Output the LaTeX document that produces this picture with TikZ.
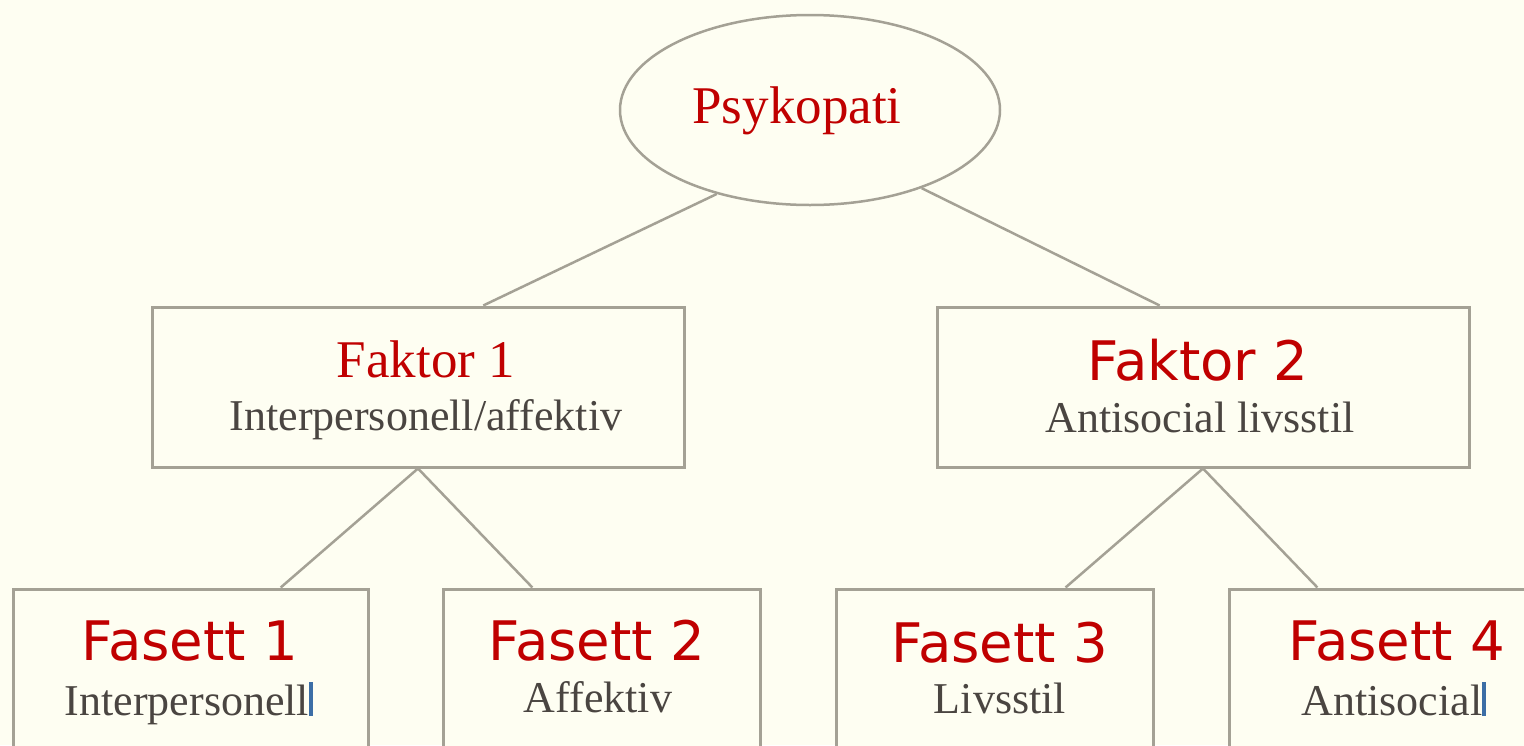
\documentclass[tikz,border=0pt]{standalone}
\usepackage{fontspec}
\setmainfont{Liberation Serif}
\newfontfamily\vsans{DejaVu Sans}
\usetikzlibrary{shapes.geometric,calc}
\definecolor{bg}{HTML}{FEFEF2}
\definecolor{edgegray}{HTML}{A4A195}
\definecolor{titlered}{HTML}{C00000}
\definecolor{subgray}{HTML}{4A4541}
\definecolor{cursorblue}{HTML}{3C6EA6}
\tikzset{
  box/.style={rectangle, draw=edgegray, line width=3pt, fill=bg, minimum height=160pt, inner sep=0pt},
  oval/.style={ellipse, draw=edgegray, line width=2.5pt, fill=bg, minimum width=380pt, minimum height=190pt, inner sep=0pt},
  conn/.style={draw=edgegray, line width=2.5pt},
  serifttl/.style={text=titlered, font=\fontsize{53}{60}\selectfont, anchor=base, inner sep=0pt},
  sansttl/.style={text=titlered, font=\vsans\fontsize{54.5}{60}\selectfont, anchor=base, inner sep=0pt},
  subttl/.style={text=subgray, font=\fontsize{44}{50}\selectfont, anchor=base, inner sep=0pt},
  cursorbar/.style={rectangle, fill=cursorblue, minimum width=4pt, minimum height=34pt, inner sep=0pt},
}
\begin{document}
\begin{tikzpicture}[x=1pt, y=-1pt]
  \useasboundingbox (0,0) rectangle (1524,745);
  \fill[bg] (0,0) rectangle (1524,745);
  \clip (0,0) rectangle (1524,745);

  % nodes
  \node[oval] (psy) at (810,110) {};
  \node[box, minimum width=532pt] (f1) at (418,387) {};
  \node[box, minimum width=532pt] (f2) at (1203,387) {};
  \node[box, minimum width=355pt] (s1) at (190.5,669) {};
  \node[box, minimum width=317pt] (s2) at (601.5,669) {};
  \node[box, minimum width=317pt] (s3) at (994.5,669) {};
  \node[box, minimum width=317pt] (s4) at (1387.5,669) {};

  % texts
  \node[serifttl] (tpsy) at (797,123) {Psykopati};
  \node[serifttl] (tf1) at (426,377) {Faktor 1};
  \node[subttl] (uf1) at (426,430) {Interpersonell/affektiv};
  \node[sansttl] (tf2) at (1198,380) {Faktor 2};
  \node[subttl] (uf2) at (1200,432) {Antisocial livsstil};
  \node[sansttl] (ts1) at (190,660) {Fasett 1};
  \node[subttl] (us1) at (187,715) {Interpersonell};
  \node[sansttl] (ts2) at (597,660) {Fasett 2};
  \node[subttl] (us2) at (598,712) {Affektiv};
  \node[sansttl] (ts3) at (1000,662) {Fasett 3};
  \node[subttl] (us3) at (1000,713) {Livsstil};
  \node[sansttl] (ts4) at (1397,660) {Fasett 4};
  \node[subttl] (us4) at (1392,715) {Antisocial};
  \node[cursorbar] (c1) at (310.5,699) {};
  \node[cursorbar] (c4) at (1484,699) {};

  % connectors
  \draw[conn] (psy.222) -- ($(f1.north west)!0.622!(f1.north east)$);
  \draw[conn] (psy.325) -- ($(f2.north west)!0.419!(f2.north east)$);
  \draw[conn] (f1.south) -- ($(s1.north west)!0.752!(s1.north east)$);
  \draw[conn] (f1.south) -- ($(s2.north west)!0.284!(s2.north east)$);
  \draw[conn] (f2.south) -- ($(s3.north west)!0.722!(s3.north east)$);
  \draw[conn] (f2.south) -- ($(s4.north west)!0.281!(s4.north east)$);
\end{tikzpicture}
\end{document}
